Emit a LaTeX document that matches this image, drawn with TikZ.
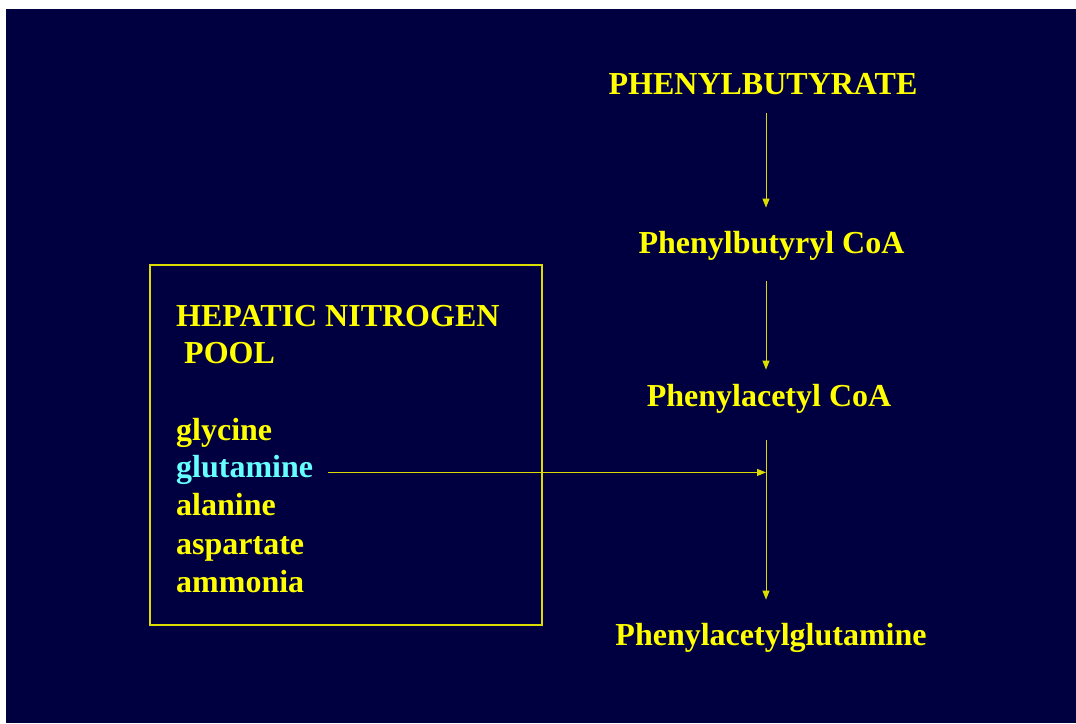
\documentclass[tikz,border=0pt]{standalone}
\usepackage{fontspec}
\setmainfont{Liberation Serif}
\usetikzlibrary{arrows.meta}

\definecolor{navy}{RGB}{0,0,64}
\definecolor{slideyellow}{RGB}{255,255,0}
\definecolor{slidecyan}{RGB}{102,255,255}
\definecolor{lineyellow}{RGB}{220,220,0}

\tikzset{
    label/.style={inner sep=0pt, text=slideyellow, font=\fontsize{32}{38}\selectfont\bfseries},
    poolbox/.style={draw=lineyellow, line width=1.3pt, inner sep=0pt, minimum width=392pt, minimum height=360pt},
    arr/.style={draw=lineyellow, line width=1pt, -{Triangle[length=9pt,width=7pt]}}
}

\begin{document}
\begin{tikzpicture}[x=1pt,y=-1pt]
    % Slide background
    \useasboundingbox (0,0) rectangle (1076,723);
    \fill[navy] (6,9) rectangle (1076,723);
    \coordinate (axis) at (766,0);

    % Pathway on the right
    \node[label, anchor=base] (pb) at (763,94) {PHENYLBUTYRATE};
    \node[label, anchor=base] (pbcoa) at (771.5,253) {Phenylbutyryl CoA};
    \node[label, anchor=base] (pacoa) at (769,406) {Phenylacetyl CoA};
    \node[label, anchor=base] (pag) at (771,645) {Phenylacetylglutamine};

    % Nitrogen pool box
    \node[poolbox] (pool) at (346,445) {};
    \node[label, anchor=base west] (hep) at (176,326) {HEPATIC NITROGEN};
    \node[label, anchor=base west] (poolname) at (184,363) {POOL};
    \node[label, anchor=base west] (gly) at (176,440) {glycine};
    \node[label, anchor=base west, text=slidecyan] (glu) at (176,477) {glutamine};
    \node[label, anchor=base west] (ala) at (176,515) {alanine};
    \node[label, anchor=base west] (asp) at (176,554) {aspartate};
    \node[label, anchor=base west] (amm) at (176,592) {ammonia};

    % Arrows down the pathway
    \draw[arr, shorten <=19pt, shorten >=23pt] (pb.south -| axis) -- (pbcoa.north -| axis);
    \draw[arr, shorten <=21pt, shorten >=14pt] (pbcoa.south -| axis) -- (pacoa.north -| axis);
    \draw[arr, shorten <=27pt, shorten >=23pt] (pacoa.south -| axis) -- (pag.north -| axis);

    % Glutamine joins the pathway
    \draw[arr, shorten <=15pt] ([yshift=-3pt]glu.east) -- ([yshift=-3pt]glu.east -| axis);
\end{tikzpicture}
\end{document}
